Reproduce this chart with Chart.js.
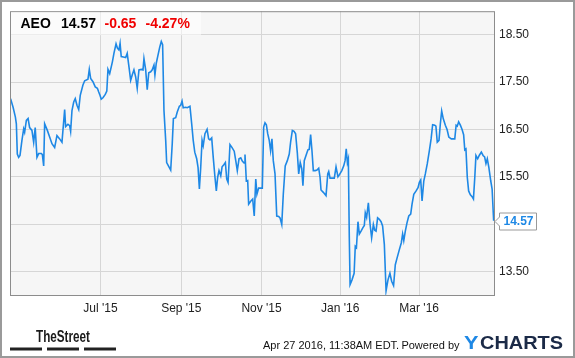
<!DOCTYPE html>
<html>
<head>
<meta charset="utf-8">
<script src="https://cdn.jsdelivr.net/npm/chart.js@4.4.1/dist/chart.umd.min.js"></script>
<style>
html,body{margin:0;padding:0;background:#fff;}
canvas{display:block;}
</style>
</head>
<body>
<canvas id="c" width="575" height="358"></canvas>
<script>
// ---- data (x = trading session index, y = close price in USD) ----
const sessions = [0.3,1.6,2.8,3.3,3.8,4.5,5.2,6.2,7.1,7.6,8.5,9.4,10.2,11.4,12.3,13.1,14.0,14.9,16.3,16.8,17.5,18.0,19.4,20.6,21.8,23.2,24.4,25.8,27.0,28.4,28.9,30.1,31.0,31.5,32.2,33.1,33.9,34.8,35.7,36.5,37.9,38.8,40.5,41.2,41.9,43.1,44.3,45.4,46.1,46.8,47.4,48.3,49.5,50.3,50.9,51.8,53.2,54.0,55.1,55.8,56.6,57.2,57.8,58.9,60.1,60.9,61.8,62.7,63.5,64.4,65.3,66.1,67.0,68.2,69.1,69.6,70.5,71.3,72.1,73.1,73.9,74.8,75.3,76.0,76.9,77.8,78.6,79.3,80.0,80.9,81.4,82.6,83.5,84.3,84.9,86.1,86.9,88.0,88.7,89.4,90.0,91.3,92.1,93.5,94.4,95.2,96.0,97.0,97.7,98.4,99.1,99.8,100.4,101.3,102.4,103.2,103.9,104.8,105.6,106.5,107.2,107.9,108.6,109.5,110.2,111.2,111.9,112.6,113.3,114.3,115.3,116.5,117.3,118.1,119.0,119.9,120.7,121.6,122.1,122.8,123.5,124.0,124.7,125.4,126.1,126.9,127.7,128.3,129.2,130.3,131.1,131.8,132.5,133.2,133.9,134.7,135.4,136.1,136.8,137.7,138.6,139.6,140.3,141.2,142.0,143.0,144.1,145.1,145.8,146.7,147.6,148.4,149.3,150.0,150.8,151.6,152.2,152.9,153.8,154.8,155.5,156.2,156.9,157.6,158.6,159.5,160.4,161.1,161.6,162.8,164.2,165.1,165.6,166.3,167.3,168.5,169.4,170.4,171.1,172.4,173.4,174.1,174.7,175.3,175.8,176.3,176.7,177.7,178.8,179.4,180.0,180.8,181.5,182.4,183.3,184.1,184.6,185.3,186.2,187.1,187.9,188.8,189.5,190.2,191.0,191.9,192.8,193.6,194.5,195.4,196.4,197.4,198.3,199.3,200.2,201.1,202.3,203.3,204.0,204.6,205.4,206.3,207.2,208.2,208.9,209.8,211.0,212.0,212.7,213.4,214.1,215.0,215.8,216.8,217.9,218.8,219.6,220.7,221.3,222.0,222.9,223.6,224.3,225.1,226.2,227.1,228.0,229.3,231.1,231.8,232.4,233.1,234.0,234.9,235.7,236.3,236.9,237.6,238.3,239.2,240.1,240.8,241.5,242.1,243.0,243.8,244.9,245.8,246.6,247.3,248.0,248.8,249.8,250.5,251.3];
const closes = [17.15,16.97,16.76,16.62,15.98,15.91,15.95,16.27,16.51,16.44,16.69,16.73,16.54,16.48,16.23,16.54,15.91,15.99,15.99,15.97,15.73,16.62,16.48,16.34,16.20,16.12,16.37,16.30,16.23,16.92,16.56,16.61,16.58,16.46,16.90,17.08,17.15,17.01,16.92,17.22,17.44,17.53,17.56,17.77,17.58,17.51,17.40,17.37,17.29,17.22,17.14,17.17,17.24,17.31,17.77,17.68,17.93,18.11,18.31,18.22,18.18,18.32,18.04,18.03,18.02,18.11,17.83,17.54,17.65,17.76,17.61,17.37,17.76,17.77,17.76,18.00,17.76,17.34,17.70,17.72,17.76,17.86,17.65,17.90,18.07,18.24,18.36,18.29,16.90,16.27,15.80,15.71,15.64,16.20,16.73,16.75,16.87,16.99,17.01,17.10,16.96,16.97,16.96,16.99,16.62,16.27,16.02,15.88,15.70,15.24,15.70,16.27,16.16,16.41,16.50,16.30,16.28,16.32,15.91,15.49,15.20,15.49,15.63,15.52,15.71,15.76,15.80,15.45,15.38,16.18,16.12,16.04,15.84,15.63,15.88,15.90,15.83,15.79,15.97,15.41,15.42,14.92,14.96,15.00,15.03,14.67,15.45,15.13,15.26,15.26,15.26,16.55,16.64,16.60,16.41,16.27,16.05,16.30,15.84,15.56,14.67,14.66,14.63,14.49,15.13,15.73,15.84,15.98,16.23,16.48,16.46,16.41,16.00,15.56,15.80,15.67,15.31,15.84,15.95,16.07,16.08,16.39,16.05,15.63,15.63,15.64,15.68,15.49,15.22,15.17,15.10,15.56,15.61,15.47,15.47,15.47,15.71,15.50,15.54,15.63,15.73,15.84,16.09,15.80,15.88,14.21,13.22,13.32,13.46,14.03,14.00,14.55,14.29,14.35,14.42,14.47,14.74,14.64,14.95,14.49,14.21,14.49,14.37,14.35,14.63,14.60,14.55,14.46,14.07,13.09,13.32,13.46,13.29,13.20,13.64,13.78,13.96,14.10,14.29,14.15,14.35,14.53,14.67,14.71,14.92,15.13,15.20,15.27,15.38,15.43,14.99,15.41,15.56,15.77,16.05,16.30,16.60,16.59,16.57,16.23,16.27,16.62,16.89,16.73,16.59,16.50,16.34,16.30,16.30,16.59,16.57,16.66,16.59,16.50,16.39,16.07,16.09,15.49,15.20,15.12,15.08,15.03,15.49,15.95,15.88,15.95,16.02,15.95,15.92,15.78,15.88,15.70,15.41,15.24,14.57];
const xTickPositions = [47.0, 89.0, 130.7, 171.6, 212.6];
const xTickLabels = ["Jul '15", "Sep '15", "Nov '15", "Jan '16", "Mar '16"];
const yTickValues = [13.5, 14.5, 15.5, 16.5, 17.5, 18.5];
const ticker = "AEO";
const lastPrice = 14.57;
const priceChange = -0.65;
const pctChange = -4.27;
const stampText = "Apr 27 2016, 11:38AM EDT.";

const FONT = "'Liberation Sans', Arial, Helvetica, sans-serif";
Chart.defaults.font.family = FONT;

const points = sessions.map((s, i) => ({x: s, y: closes[i]}));

const decor = {
  id: 'decor',
  beforeDraw(chart) {
    const ctx = chart.ctx, a = chart.chartArea;
    ctx.save();
    ctx.fillStyle = '#ffffff';
    ctx.fillRect(0, 0, chart.width, chart.height);
    ctx.fillStyle = '#f6f6f6';
    ctx.fillRect(a.left, a.top, a.right - a.left, a.bottom - a.top);
    ctx.restore();
  },
  afterDraw(chart) {
    const ctx = chart.ctx, a = chart.chartArea;
    ctx.save();
    // plot frame
    ctx.strokeStyle = '#8c8c8c';
    ctx.lineWidth = 1;
    ctx.strokeRect(a.left + 0.5, a.top + 0.5, a.right - a.left - 1, a.bottom - a.top);
    // outer frame
    ctx.strokeStyle = '#9a9a9a';
    ctx.lineWidth = 2;
    ctx.strokeRect(1, 1, chart.width - 2, chart.height - 2);

    // header box
    ctx.fillStyle = 'rgba(255,255,255,0.55)';
    ctx.fillRect(a.left + 1, a.top + 1, 190, 23);
    ctx.textBaseline = 'alphabetic';
    ctx.font = 'bold 14px ' + FONT;
    ctx.fillStyle = '#000';
    ctx.fillText(ticker, 20.5, 28);
    ctx.fillText(lastPrice.toFixed(2), 61, 28);
    ctx.fillStyle = '#f00000';
    ctx.fillText(priceChange.toFixed(2), 104.5, 28);
    ctx.fillText(pctChange.toFixed(2) + '%', 145.5, 28);

    // last value flag
    const yc = Math.round(chart.scales.y.getPixelForValue(lastPrice)) + 0.5;
    const L = 499.5, R = 536.5, T = yc - 8.5, B = yc + 8.5;
    ctx.beginPath();
    ctx.moveTo(a.right, yc);
    ctx.lineTo(L, yc - 4.5);
    ctx.lineTo(L, T);
    ctx.lineTo(R, T);
    ctx.lineTo(R, B);
    ctx.lineTo(L, B);
    ctx.lineTo(L, yc + 4.5);
    ctx.closePath();
    ctx.fillStyle = '#fff';
    ctx.fill();
    ctx.strokeStyle = '#9a9a9a';
    ctx.lineWidth = 1;
    ctx.stroke();
    ctx.font = 'bold 12px ' + FONT;
    ctx.fillStyle = '#1e88e5';
    ctx.textBaseline = 'middle';
    ctx.fillText(lastPrice.toFixed(2), 503.5, yc + 0.5);

    // footer: TheStreet logo
    ctx.textBaseline = 'alphabetic';
    ctx.fillStyle = '#1a1a1a';
    ctx.font = 'bold 16px ' + FONT;
    let w = ctx.measureText('TheStreet').width;
    ctx.save();
    ctx.translate(36, 341.5);
    ctx.scale(54 / w, 1);
    ctx.fillText('TheStreet', 0, 0);
    ctx.restore();
    ctx.fillStyle = '#222';
    ctx.fillRect(10, 347.5, 32, 3);
    ctx.fillRect(47, 347.5, 32, 3);
    ctx.fillRect(84, 347.5, 32, 3);

    // timestamp + powered by
    ctx.font = '11px ' + FONT;
    ctx.fillStyle = '#111';
    ctx.textAlign = 'left';
    ctx.fillText(stampText, 263, 348.5);
    ctx.textAlign = 'right';
    ctx.fillText('Powered by', 459.5, 348.5);
    ctx.textAlign = 'left';

    // YCHARTS logo
    ctx.font = 'bold 19px ' + FONT;
    ctx.fillStyle = '#1e88e5';
    w = ctx.measureText('Y').width;
    ctx.save();
    ctx.translate(464, 348.5);
    ctx.scale(14.5 / w, 1);
    ctx.fillText('Y', 0, 0);
    ctx.restore();
    ctx.fillStyle = '#1b2a47';
    w = ctx.measureText('CHARTS').width;
    ctx.save();
    ctx.translate(480, 348.5);
    ctx.scale(83 / w, 1);
    ctx.fillText('CHARTS', 0, 0);
    ctx.restore();

    ctx.restore();
  }
};

new Chart(document.getElementById('c'), {
  type: 'line',
  data: {
    datasets: [{
      data: points,
      borderColor: '#1e88e5',
      borderWidth: 1.6,
      pointRadius: 0,
      tension: 0,
      fill: false
    }]
  },
  options: {
    responsive: false,
    animation: false,
    devicePixelRatio: 1,
    layout: {padding: {left: 10, top: 10, right: 0, bottom: 0}},
    plugins: {legend: {display: false}, tooltip: {enabled: false}},
    scales: {
      x: {
        type: 'linear',
        min: 0,
        max: 252,
        afterBuildTicks: s => { s.ticks = xTickPositions.map(v => ({value: v})); },
        afterFit: s => { s.height = 63; },
        grid: {color: '#d6d6d6', drawTicks: false, lineWidth: 1},
        border: {display: false},
        ticks: {
          autoSkip: false, maxRotation: 0, padding: 6,
          color: '#222', font: {size: 12},
          callback: (v, i) => xTickLabels[i]
        }
      },
      y: {
        type: 'linear',
        position: 'right',
        min: 13,
        max: 19,
        afterBuildTicks: s => { s.ticks = yTickValues.map(v => ({value: v})); },
        afterFit: s => { s.width = 80; },
        grid: {color: '#d6d6d6', drawTicks: false, lineWidth: 1},
        border: {display: false},
        ticks: {
          padding: 4, color: '#222', font: {size: 12},
          callback: v => Number(v).toFixed(2)
        }
      }
    }
  },
  plugins: [decor]
});
</script>
</body>
</html>
